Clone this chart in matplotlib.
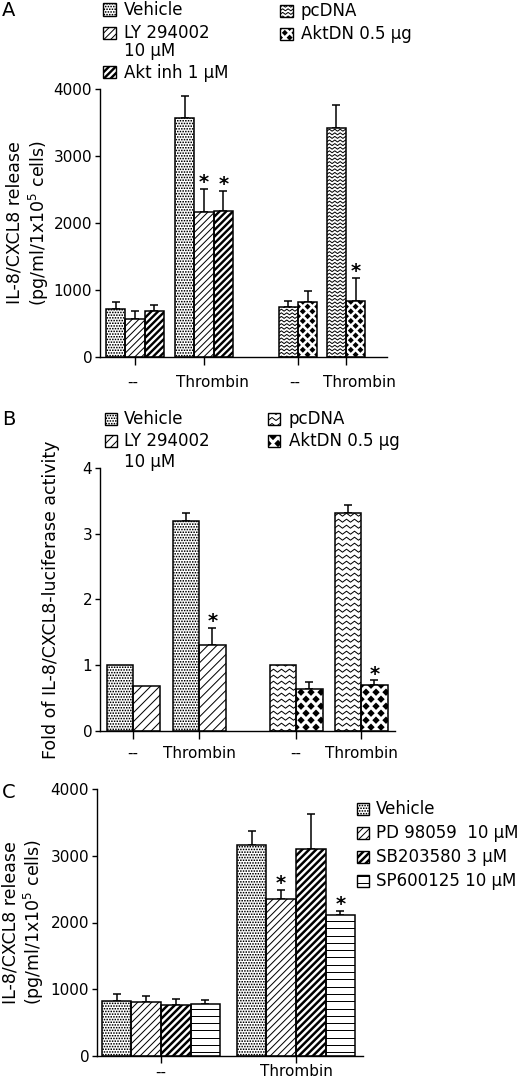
import numpy as np
import matplotlib
matplotlib.use("Agg")
import matplotlib.pyplot as plt
from matplotlib.patches import Rectangle
from matplotlib.collections import LineCollection, PolyCollection

plt.rcParams['font.family'] = ['DejaVu Sans']
plt.rcParams['mathtext.fontset'] = 'dejavusans'

# ---------------- data ----------------
# Panel A: IL-8/CXCL8 release (pg/ml/1x10^5 cells)
conditions_A = ["--", "Thrombin", "--", "Thrombin"]
a_vehicle = [720, 3560]
a_vehicle_sem = [100, 340]
a_ly = [560, 2160]
a_ly_sem = [120, 350]
a_aktinh = [680, 2185]
a_aktinh_sem = [95, 295]
a_pcdna = [740, 3415]
a_pcdna_sem = [95, 345]
a_aktdn = [815, 840]
a_aktdn_sem = [170, 345]
a_ly_sig = [False, True]
a_aktinh_sig = [False, True]
a_aktdn_sig = [False, True]
yticks_A = [0, 1000, 2000, 3000, 4000]

# Panel B: fold of IL-8/CXCL8-luciferase activity
conditions_B = ["--", "Thrombin", "--", "Thrombin"]
b_vehicle = [1.0, 3.20]
b_vehicle_sem = [np.nan, 0.11]
b_ly = [0.68, 1.30]
b_ly_sem = [np.nan, 0.27]
b_pcdna = [1.0, 3.31]
b_pcdna_sem = [np.nan, 0.12]
b_aktdn = [0.64, 0.69]
b_aktdn_sem = [0.10, 0.08]
b_ly_sig = [False, True]
b_aktdn_sig = [False, True]
yticks_B = [0, 1, 2, 3, 4]

# Panel C: IL-8/CXCL8 release with MAPK inhibitors
conditions_C = ["--", "Thrombin"]
c_vehicle = [830, 3160]
c_vehicle_sem = [95, 215]
c_pd = [815, 2355]
c_pd_sem = [85, 135]
c_sb = [765, 3105]
c_sb_sem = [85, 525]
c_sp = [775, 2110]
c_sp_sem = [65, 65]
c_pd_sig = [False, True]
c_sp_sig = [False, True]
yticks_C = [0, 1000, 2000, 3000, 4000]

legend_A1 = ["Vehicle", "LY 294002\n10 \u03bcM", "Akt inh 1 \u03bcM"]
legend_A2 = ["pcDNA", "AktDN 0.5 \u03bcg"]
legend_B1 = ["Vehicle", "LY 294002\n10 \u03bcM"]
legend_B2 = ["pcDNA", "AktDN 0.5 \u03bcg"]
legend_C = ["Vehicle", "PD 98059  10 \u03bcM", "SB203580 3 \u03bcM", "SP600125 10 \u03bcM"]

ylabel_AC = "IL-8/CXCL8 release\n(pg/ml/1x10$^5$ cells)"
ylabel_B = "Fold of IL-8/CXCL8-luciferase activity"

# ---------------- layout / style ----------------
W, H = 520, 1085
PT = 72 / 100.0  # points per pixel

fig = plt.figure(figsize=(W / 100, H / 100), dpi=100)


def px_axes(left, top, right, bottom):
    return fig.add_axes([left / W, 1 - bottom / H, (right - left) / W, (bottom - top) / H])


def fill_pattern(ax, patch, spec, z=1.5):
    kind = spec['kind']
    bb = patch.get_window_extent()
    x0, y0, x1, y1 = bb.x0, bb.y0, bb.x1, bb.y1
    inv = ax.transData.inverted()
    art = None
    if kind == 'dots':
        s = spec['sp']
        d = spec['size'] / 2
        polys = []
        for j, yy in enumerate(np.arange(y0 + s / 2, y1 + s, s)):
            for xx in np.arange(x0 + s / 2 + (j % 2) * s / 2 - s, x1 + s, s):
                polys.append(inv.transform([[xx - d, yy - d], [xx + d, yy - d],
                                            [xx + d, yy + d], [xx - d, yy + d]]))
        art = PolyCollection(polys, facecolors='k', edgecolors='none', zorder=z)
        art.set_snap(False)
        ax.add_collection(art)
    elif kind == 'diag':
        s = spec['sp']
        h = y1 - y0
        segs = []
        for c in np.arange(x0 - h - s, x1 + s, s):
            segs.append(inv.transform([[c - 4, y0 - 4], [c + h + 4, y1 + 4]]))
        art = LineCollection(segs, colors='k', linewidths=spec['lw'] * PT, zorder=z)
        ax.add_collection(art)
    elif kind == 'hlines':
        s = spec['sp']
        segs = []
        for yy in np.arange(y0 + s * 0.5, y1, s):
            segs.append(inv.transform([[x0 - 2, yy], [x1 + 2, yy]]))
        art = LineCollection(segs, colors='k', linewidths=spec['lw'] * PT, zorder=z)
        ax.add_collection(art)
    elif kind == 'zigzag':
        p, r, a = spec['period'], spec['row'], spec['amp']
        xs = np.arange(x0 - p, x1 + p, p / 2)
        alt = np.where(np.arange(len(xs)) % 2 == 0, -a / 2, a / 2)
        segs = []
        for yy in np.arange(y0 - r, y1 + r, r):
            segs.append(inv.transform(np.column_stack([xs, yy + alt])))
        art = LineCollection(segs, colors='k', linewidths=spec['lw'] * PT, zorder=z)
        ax.add_collection(art)
    elif kind == 'diamonds':
        dx, dy, hw, hh = spec['dx'], spec['dy'], spec['hw'], spec['hh']
        polys = []
        for k, yy in enumerate(np.arange(y0 + dy / 2, y1 + dy, dy)):
            off = (k % 2) * dx / 2
            for xx in np.arange(x0 + off - dx, x1 + dx, dx):
                poly = [[xx - hw, yy], [xx, yy + hh], [xx + hw, yy], [xx, yy - hh]]
                polys.append(inv.transform(poly))
        art = PolyCollection(polys, facecolors='k', edgecolors='none', zorder=z)
        ax.add_collection(art)
    if art is not None:
        art.set_clip_path(patch)


def setup_axes(ax, xlim, ylim, yticks):
    ax.set_xlim(*xlim)
    ax.set_ylim(*ylim)
    ax.autoscale(False)
    for sp in ('top', 'right'):
        ax.spines[sp].set_visible(False)
    for sp in ('left', 'bottom'):
        ax.spines[sp].set_linewidth(1.0)
    ax.set_yticks(yticks)
    ax.set_yticklabels([str(t) for t in yticks])
    ax.tick_params(axis='y', direction='out', length=3.6, width=1.0, labelsize=11, pad=2)


def draw_series(ax, xs, vals, sem, sig, width, spec):
    xs = np.asarray(xs, float)
    vals = np.asarray(vals, float)
    sem = np.asarray(sem, float)
    bars = ax.bar(xs, vals, width, color='white', edgecolor='none', zorder=1)
    for b in bars:
        fill_pattern(ax, b, spec)
    ax.bar(xs, vals, width, facecolor='none', edgecolor='black', linewidth=1.1, zorder=2)
    ok = ~np.isnan(sem)
    if ok.any():
        ax.errorbar(xs[ok], vals[ok], yerr=[np.zeros(ok.sum()), sem[ok]], fmt='none',
                    ecolor='k', elinewidth=1.1, capsize=3, capthick=1.1, zorder=0.8)
    for x, v, e, s in zip(xs, vals, sem, sig):
        if s:
            top = v + (0 if np.isnan(e) else e)
            ax.annotate('*', xy=(x, top), xytext=(0, 0.3), textcoords='offset points',
                        ha='center', va='baseline', fontsize=14, fontweight='bold', zorder=3)


def legend_entry(left, top, size, spec, text, tx, ty, linespacing=1.0):
    lax = px_axes(left, top, left + size[0], top + size[1])
    lax.set_xlim(0, 1)
    lax.set_ylim(0, 1)
    lax.autoscale(False)
    lax.axis('off')
    r = Rectangle((0, 0), 1, 1, facecolor='white', edgecolor='none', zorder=1)
    lax.add_patch(r)
    fill_pattern(lax, r, spec)
    lax.add_patch(Rectangle((0, 0), 1, 1, facecolor='none', edgecolor='black',
                            linewidth=1.0, zorder=2, clip_on=False))
    fig.text(tx / W, 1 - ty / H, text, ha='left', va='center', fontsize=12,
             linespacing=linespacing)


# pattern specs (pixel based)
DOTS = dict(kind='dots', sp=2.7, size=1.5)
LY_A = dict(kind='diag', sp=6.7, lw=1.0)
THICK_A = dict(kind='diag', sp=6.7, lw=2.4)
ZIG_A = dict(kind='zigzag', period=5.4, row=3.6, amp=2.0, lw=1.0)
DIA_A = dict(kind='diamonds', dx=9.6, dy=4.8, hw=3.0, hh=3.0)
LY_B = dict(kind='diag', sp=9.0, lw=1.0)
ZIG_B = dict(kind='zigzag', period=8.0, row=6.0, amp=3.0, lw=1.0)
DIA_B = dict(kind='diamonds', dx=10.0, dy=7.0, hw=3.7, hh=3.7)
LY_C = dict(kind='diag', sp=7.0, lw=1.0)
THICK_C = dict(kind='diag', sp=7.0, lw=2.5)
HL_C = dict(kind='hlines', sp=7.3, lw=1.0)

# ================= Panel A =================
axA = px_axes(100, 89, 387, 357)
setup_axes(axA, (0, 287), (0, 4000), yticks_A)
wA = 19.3
centers_A = [35, 104, 198, 246]
label_pos_A = [33, 112, 195, 259]
for vals, sem, sig, groups, slot, nslot, spec in [
        (a_vehicle, a_vehicle_sem, [False, False], [0, 1], 0, 3, DOTS),
        (a_ly, a_ly_sem, a_ly_sig, [0, 1], 1, 3, LY_A),
        (a_aktinh, a_aktinh_sem, a_aktinh_sig, [0, 1], 2, 3, THICK_A),
        (a_pcdna, a_pcdna_sem, [False, False], [2, 3], 0, 2, ZIG_A),
        (a_aktdn, a_aktdn_sem, a_aktdn_sig, [2, 3], 1, 2, DIA_A)]:
    xs = [centers_A[g] + (slot - (nslot - 1) / 2) * wA for g in groups]
    draw_series(axA, xs, vals, sem, sig, wA, spec)
axA.set_xticks(centers_A)
axA.set_xticklabels([])
axA.set_xticks(label_pos_A, minor=True)
axA.set_xticklabels(conditions_A, minor=True)
axA.tick_params(axis='x', which='major', direction='out', length=5.8, width=1.0)
axA.tick_params(axis='x', which='minor', length=0, pad=13, labelsize=11)
axA.set_ylabel(ylabel_AC, fontsize=12.5, linespacing=1.15)
axA.yaxis.set_label_coords(-0.172, 0.5)

legend_entry(103, 3, (13, 13), DOTS, legend_A1[0], 124, 10)
legend_entry(103, 27, (13, 12), LY_A, legend_A1[1], 124, 42, linespacing=0.95)
legend_entry(103, 66, (13, 12), THICK_A, legend_A1[2], 124, 73)
legend_entry(280, 5, (13, 12), ZIG_A, legend_A2[0], 301, 11)
legend_entry(280, 28, (13, 12), DIA_A, legend_A2[1], 301, 34)
fig.text(2 / W, 1 - 10 / H, "A", ha='left', va='center', fontsize=14)

# ================= Panel B =================
axB = px_axes(100, 468, 395, 730.7)
setup_axes(axB, (0, 295), (0, 4), yticks_B)
wB = 26.5
centers_B = [33, 99, 196, 261]
for vals, sem, sig, groups, slot, nslot, spec in [
        (b_vehicle, b_vehicle_sem, [False, False], [0, 1], 0, 2, DOTS),
        (b_ly, b_ly_sem, b_ly_sig, [0, 1], 1, 2, LY_B),
        (b_pcdna, b_pcdna_sem, [False, False], [2, 3], 0, 2, ZIG_B),
        (b_aktdn, b_aktdn_sem, b_aktdn_sig, [2, 3], 1, 2, DIA_B)]:
    xs = [centers_B[g] + (slot - (nslot - 1) / 2) * wB for g in groups]
    draw_series(axB, xs, vals, sem, sig, wB, spec)
axB.set_xticks(centers_B)
axB.set_xticklabels(conditions_B)
axB.tick_params(axis='x', direction='out', length=5.8, width=1.0, pad=5, labelsize=11)
axB.set_ylabel(ylabel_B, fontsize=12.5)
axB.yaxis.set_label_coords(-0.135, 0.5)

legend_entry(105, 413, (12, 12), DOTS, legend_B1[0], 124, 419)
legend_entry(105, 435, (12, 12), LY_B, legend_B1[1], 124, 451.5, linespacing=1.25)
legend_entry(268, 413, (12, 12), ZIG_B, legend_B2[0], 289, 419)
legend_entry(268, 435, (12, 12), DIA_B, legend_B2[1], 289, 441)
fig.text(2 / W, 1 - 419 / H, "B", ha='left', va='center', fontsize=14)

# ================= Panel C =================
axC = px_axes(97, 789, 363, 1056)
setup_axes(axC, (0, 266), (0, 4000), yticks_C)
wC = 29.6
centers_C = [64, 199]
for vals, sem, sig, slot, spec in [
        (c_vehicle, c_vehicle_sem, [False, False], 0, DOTS),
        (c_pd, c_pd_sem, c_pd_sig, 1, LY_C),
        (c_sb, c_sb_sem, [False, False], 2, THICK_C),
        (c_sp, c_sp_sem, c_sp_sig, 3, HL_C)]:
    xs = [c + (slot - 1.5) * wC for c in centers_C]
    draw_series(axC, xs, vals, sem, sig, wC, spec)
axC.set_xticks(centers_C)
axC.set_xticklabels(conditions_C)
axC.tick_params(axis='x', direction='out', length=5.0, width=1.0, pad=1, labelsize=11)
axC.set_ylabel(ylabel_AC, fontsize=12.5, linespacing=1.15)
axC.yaxis.set_label_coords(-0.19, 0.5)

for i, (spec, lab) in enumerate(zip([DOTS, LY_C, THICK_C, HL_C], legend_C)):
    top = 803 + i * 24
    legend_entry(357, top, (12, 12), spec, lab, 376, top + 6)
fig.text(2 / W, 1 - 792 / H, "C", ha='left', va='center', fontsize=14)

fig.savefig("out.png", dpi=100)
